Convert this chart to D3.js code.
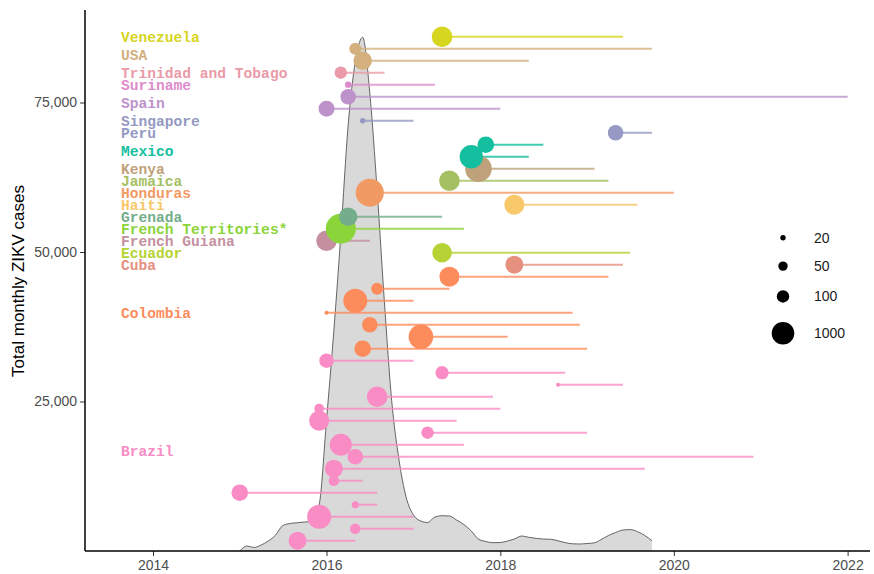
<!DOCTYPE html>
<html>
<meta charset="utf-8">
<head>
  <title>ZIKV lineages by country</title>
</head>

<style>
body { margin: 0; background: white; }
text { font-family: "Liberation Sans", Arial, sans-serif; }
.country { font-family: "Liberation Mono", "Courier New", monospace; font-weight: bold; font-size: 14.6px; }
.tick text { fill: #4d4d4d; font-size: 14px; }
</style>

<body>
  <svg width="874" height="574"></svg>

  <script src="https://cdnjs.cloudflare.com/ajax/libs/d3/7.8.5/d3.min.js"></script>
  <script>
// one entry per row, bottom row first
var rowCountry = [
  "Brazil", "Brazil", "Brazil", "Brazil", "Brazil", "Brazil", "Brazil", "Brazil",
  "Brazil", "Brazil", "Brazil", "Brazil", "Brazil", "Brazil", "Brazil", "Brazil",
  "Colombia", "Colombia", "Colombia", "Colombia", "Colombia", "Colombia", "Colombia",
  "Cuba", "Ecuador", "French Guiana", "French Territories*", "Grenada", "Haiti",
  "Honduras", "Jamaica", "Kenya", "Mexico", "Mexico", "Peru", "Singapore",
  "Spain", "Spain", "Suriname", "Trinidad and Tobago", "USA", "USA", "Venezuela"
];
var rowStart = [
  "2015-09", "2016-05", "2015-12", "2016-05", "2015-01", "2016-02", "2016-02", "2016-05",
  "2016-03", "2017-03", "2015-12", "2015-12", "2016-08", "2018-09", "2017-05", "2016-01",
  "2016-06", "2017-02", "2016-07", "2016-01", "2016-05", "2016-08", "2017-06",
  "2018-03", "2017-05", "2016-01", "2016-03", "2016-04", "2018-03",
  "2016-07", "2017-06", "2017-10", "2017-09", "2017-11", "2019-05", "2016-06",
  "2016-01", "2016-04", "2016-04", "2016-03", "2016-06", "2016-05", "2017-05"
];
var rowEnd = [
  "2016-05", "2017-01", "2017-01", "2016-08", "2016-08", "2016-06", "2019-09", "2020-12",
  "2017-08", "2019-01", "2017-07", "2018-01", "2017-12", "2019-06", "2018-10", "2017-01",
  "2019-01", "2018-02", "2018-12", "2018-11", "2017-01", "2017-06", "2019-04",
  "2019-06", "2019-07", "2016-07", "2017-08", "2017-05", "2019-08",
  "2020-01", "2019-04", "2019-02", "2018-05", "2018-07", "2019-10", "2017-01",
  "2018-01", "2022-01", "2017-04", "2016-09", "2018-05", "2019-10", "2019-06"
];
var rowSize = [
  350, 65, 1400, 30, 260, 65, 350, 200,
  900, 100, 560, 55, 640, 15, 120, 160,
  260, 1600, 200, 15, 1400, 90, 560,
  350, 500, 640, 5400, 400, 560,
  3500, 640, 2500, 1200, 260, 200, 20,
  225, 200, 25, 100, 400, 90, 640
];

var countries = ["Brazil", "Colombia", "Cuba", "Ecuador", "French Guiana", "French Territories*",
  "Grenada", "Haiti", "Honduras", "Jamaica", "Kenya", "Mexico", "Peru", "Singapore",
  "Spain", "Suriname", "Trinidad and Tobago", "USA", "Venezuela"];
var countryColors = ["#f98cc5", "#fd8c5d", "#e6907f", "#b5d334", "#c4909f", "#8bd43a",
  "#74ad8a", "#f8c86a", "#f19a64", "#a5c062", "#bfa17b", "#13bf9e", "#9599c3", "#9599c3",
  "#bd92cb", "#dc8ccb", "#ea9aa8", "#d3b07e", "#d6d51f"];

// total monthly cases, Jan 2015 .. Oct 2019
var caseStart = "2015-01";
var caseTotals = [
  0, 840, 590, 1000, 1670, 2680, 4260, 4600, 4730, 4850, 4930, 7700,
  21900, 36950, 52800, 71200, 81800, 85900, 76600, 60200, 41300, 25200, 15200, 9000,
  6000, 5000, 4760, 5680, 5900, 5850, 5180, 4430, 3340, 2000, 1590, 1390,
  1420, 1670, 2000, 2510, 2290, 2110, 2000, 1960, 1700, 1400, 1200, 1170,
  1250, 1370, 1920, 2590, 3090, 3510, 3580, 3240, 2590, 1720
];

var yTicks = [25000, 50000, 75000];
var xTicks = ["2014-01", "2016-01", "2018-01", "2020-01", "2022-01"];
var legendSizes = [20, 50, 100, 1000];

var parse = d3.timeParse("%Y-%m");
var svg = d3.select("svg");

var x = d3.scaleTime()
  .domain([parse("2014-01"), parse("2022-01")])
  .range([153, 847.6]);
var y = d3.scaleLinear()
  .domain([0, 75000])
  .range([551, 102.5]);
var rowY = d3.scaleLinear()
  .domain([1, rowCountry.length])
  .range([540.7, 36.7]);
var r = d3.scaleLog()
  .domain([10, 10000])
  .range([1.16, 16.34]);
var color = d3.scaleOrdinal().domain(countries).range(countryColors);

// case curve
var t0 = parse(caseStart);
var cases = caseTotals.map(function(v, i) {
  return { date: d3.timeMonth.offset(t0, i), value: v };
});

svg.append("path")
  .datum(cases)
  .attr("fill", "#d9d9d9")
  .attr("d", d3.area()
    .curve(d3.curveMonotoneX)
    .x(function(d) { return x(d.date); })
    .y0(y(0))
    .y1(function(d) { return y(d.value); }));

svg.append("path")
  .datum(cases)
  .attr("fill", "none")
  .attr("stroke", "#555")
  .attr("stroke-width", 0.9)
  .attr("d", d3.line()
    .curve(d3.curveMonotoneX)
    .x(function(d) { return x(d.date); })
    .y(function(d) { return y(d.value); }));

var rows = rowCountry.map(function(c, i) {
  return { country: c, k: i + 1, start: parse(rowStart[i]), end: parse(rowEnd[i]), size: rowSize[i] };
});

svg.append("g")
  .selectAll("line")
  .data(rows)
  .enter()
  .append("line")
  .attr("x1", function(d) { return x(d.start); })
  .attr("x2", function(d) { return x(d.end); })
  .attr("y1", function(d) { return rowY(d.k); })
  .attr("y2", function(d) { return rowY(d.k); })
  .attr("stroke", function(d) { return color(d.country); })
  .attr("stroke-width", 2)
  .attr("opacity", 0.8);

svg.append("g")
  .selectAll("circle")
  .data(rows)
  .enter()
  .append("circle")
  .attr("cx", function(d) { return x(d.start); })
  .attr("cy", function(d) { return rowY(d.k); })
  .attr("r", function(d) { return r(d.size); })
  .attr("fill", function(d) { return color(d.country); });

// country labels at the middle of their rows
var labels = d3.groups(rows, function(d) { return d.country; });
svg.append("g")
  .selectAll("text")
  .data(labels)
  .enter()
  .append("text")
  .attr("class", "country")
  .attr("x", 121)
  .attr("y", function(d) { return rowY(d3.mean(d[1], function(e) { return e.k; })); })
  .attr("dy", "0.36em")
  .attr("fill", function(d) { return color(d[0]); })
  .text(function(d) { return d[0]; });

// axes
var xAxis = svg.append("g")
  .attr("transform", "translate(0," + 551 + ")")
  .call(d3.axisBottom(x).tickValues(xTicks.map(parse)).tickFormat(d3.timeFormat("%Y")).tickSize(5).tickPadding(4));
xAxis.select(".domain").remove();
xAxis.selectAll(".tick line").attr("stroke", "#333");

var yAxis = svg.append("g")
  .attr("transform", "translate(85,0)")
  .call(d3.axisLeft(y).tickValues(yTicks).tickFormat(d3.format(",")).tickSize(5).tickPadding(3));
yAxis.select(".domain").remove();
yAxis.selectAll(".tick line").attr("stroke", "#333");

svg.append("line")
  .attr("x1", 85).attr("x2", 870)
  .attr("y1", 551).attr("y2", 551)
  .attr("stroke", "black").attr("stroke-width", 1.5);
svg.append("line")
  .attr("x1", 85).attr("x2", 85)
  .attr("y1", 10).attr("y2", 551)
  .attr("stroke", "black").attr("stroke-width", 1.5);

svg.append("text")
  .attr("transform", "translate(24,281) rotate(-90)")
  .attr("text-anchor", "middle")
  .attr("font-size", 17)
  .attr("fill", "black")
  .text("Total monthly ZIKV cases");

// size legend
var legend = svg.append("g");
var ly = 223.7;
legendSizes.forEach(function(v) {
  var h = Math.max(28, 2 * r(v) + 19.4);
  var cy = ly + h / 2;
  legend.append("circle")
    .attr("cx", 783).attr("cy", cy).attr("r", r(v)).attr("fill", "black");
  legend.append("text")
    .attr("x", 814).attr("y", cy).attr("dy", "0.35em")
    .attr("font-size", 14).attr("fill", "#1a1a1a")
    .text(v);
  ly += h;
});
  </script>
</body>
</html>
